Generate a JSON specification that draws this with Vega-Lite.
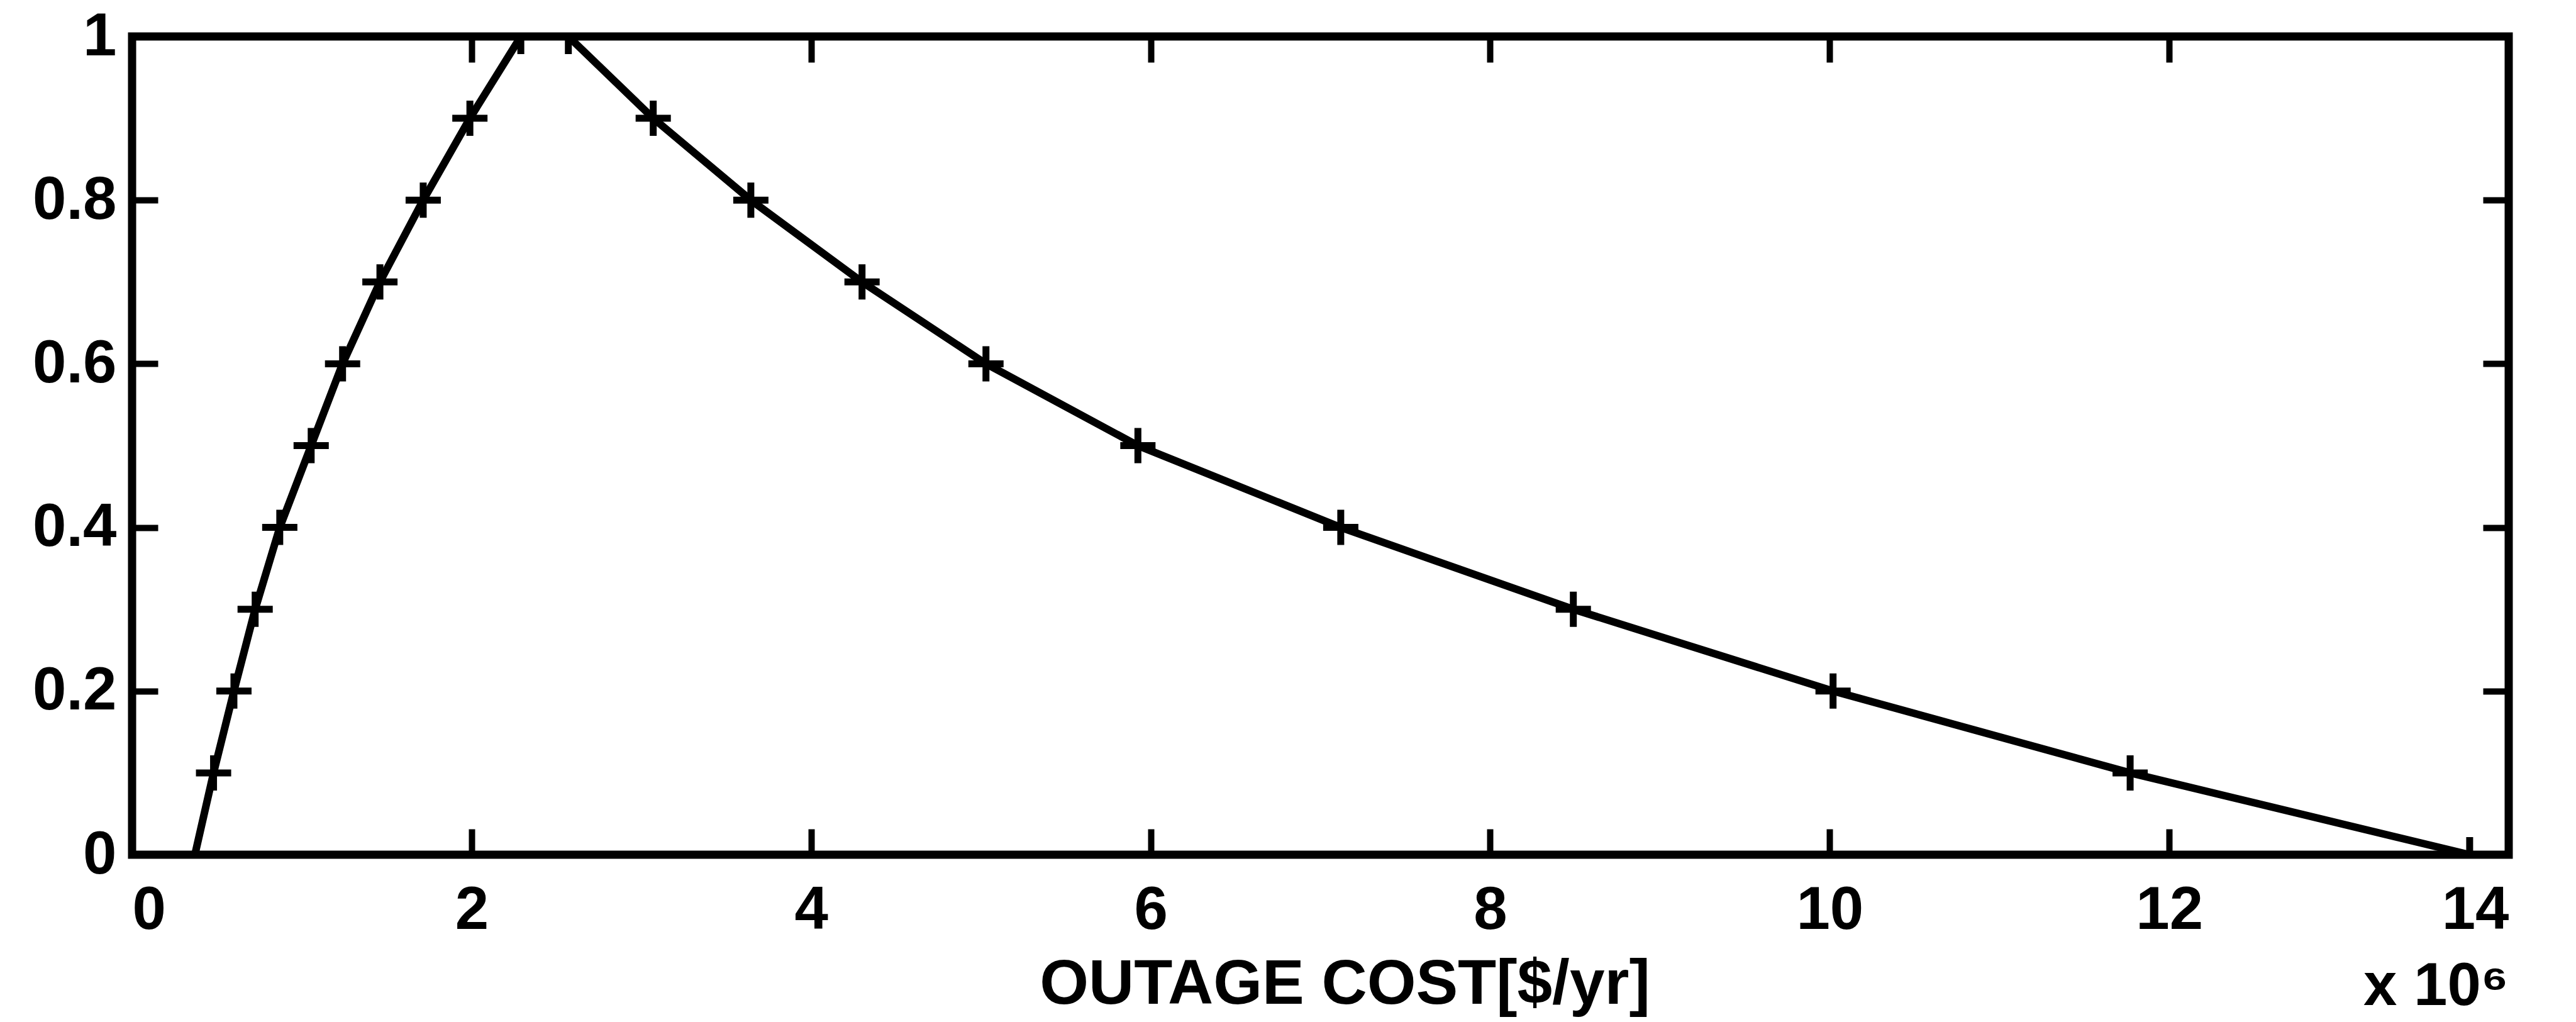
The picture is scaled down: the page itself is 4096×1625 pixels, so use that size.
{
  "$schema": "https://vega.github.io/schema/vega-lite/v6.json",
  "width": 3779,
  "height": 1301,
  "autosize": {"type": "none"},
  "padding": {"left": 210, "top": 58, "right": 107, "bottom": 266},
  "background": "white",
  "config": {
    "view": {"stroke": "black", "strokeWidth": 13},
    "font": "Liberation Sans, Arial, sans-serif",
    "axis": {
      "domain": false,
      "grid": false,
      "tickColor": "black",
      "tickWidth": 10,
      "tickSize": -41,
      "labelColor": "black",
      "labelFont": "Liberation Sans, Arial, sans-serif",
      "labelFontWeight": "bold",
      "labelFontSize": 96,
      "labelOverlap": false,
      "titleColor": "black",
      "titleFont": "Liberation Sans, Arial, sans-serif",
      "titleFontWeight": "bold",
      "titleFontSize": 100
    }
  },
  "title": {
    "text": "x 10⁶",
    "orient": "bottom",
    "anchor": "end",
    "frame": "group",
    "offset": -93,
    "font": "Liberation Sans, Arial, sans-serif",
    "fontWeight": "bold",
    "fontSize": 96,
    "color": "black"
  },
  "data": {
    "values": [
      {"x": 0.37, "y": 0.0},
      {"x": 0.48, "y": 0.1},
      {"x": 0.60, "y": 0.2},
      {"x": 0.725, "y": 0.3},
      {"x": 0.87, "y": 0.4},
      {"x": 1.055, "y": 0.5},
      {"x": 1.24, "y": 0.6},
      {"x": 1.46, "y": 0.7},
      {"x": 1.715, "y": 0.8},
      {"x": 1.99, "y": 0.9},
      {"x": 2.29, "y": 1.0},
      {"x": 2.57, "y": 1.0},
      {"x": 3.07, "y": 0.9},
      {"x": 3.645, "y": 0.8},
      {"x": 4.30, "y": 0.7},
      {"x": 5.03, "y": 0.6},
      {"x": 5.925, "y": 0.5},
      {"x": 7.12, "y": 0.4},
      {"x": 8.49, "y": 0.3},
      {"x": 10.02, "y": 0.2},
      {"x": 11.77, "y": 0.1},
      {"x": 13.77, "y": 0.0}
    ]
  },
  "layer": [
    {
      "mark": {"type": "line", "color": "black", "strokeWidth": 12, "clip": true},
      "encoding": {
        "x": {
          "field": "x", "type": "quantitative",
          "scale": {"domain": [0, 14], "nice": false, "zero": false},
          "axis": {
            "orient": "bottom",
            "values": [0, 2, 4, 6, 8, 10, 12, 14],
            "format": "d",
            "labelPadding": 82,
            "title": "OUTAGE COST[$/yr]",
            "titleX": 1928,
            "titleY": 236,
            "titleAnchor": "middle",
            "titleAlign": "center",
            "titleBaseline": "alphabetic"
          }
        },
        "y": {
          "field": "y", "type": "quantitative",
          "scale": {"domain": [0, 1], "nice": false, "zero": false},
          "axis": {
            "orient": "left",
            "values": [0, 0.2, 0.4, 0.6, 0.8, 1],
            "format": "~g",
            "labelPadding": 66,
            "title": null
          }
        }
      }
    },
    {
      "transform": [{"filter": "datum.y > 0 || datum.x > 5"}],
      "mark": {
        "type": "point",
        "shape": "M-1,0L1,0M0,-1L0,1",
        "size": 3136,
        "filled": false,
        "stroke": "black",
        "strokeWidth": 11,
        "opacity": 1,
        "clip": true
      },
      "encoding": {
        "x": {
          "field": "x", "type": "quantitative",
          "axis": {"orient": "top", "values": [0, 2, 4, 6, 8, 10, 12, 14], "labels": false, "title": null}
        },
        "y": {
          "field": "y", "type": "quantitative",
          "axis": {"orient": "right", "values": [0, 0.2, 0.4, 0.6, 0.8, 1], "labels": false, "title": null}
        }
      }
    }
  ],
  "resolve": {"axis": {"x": "independent", "y": "independent"}}
}
